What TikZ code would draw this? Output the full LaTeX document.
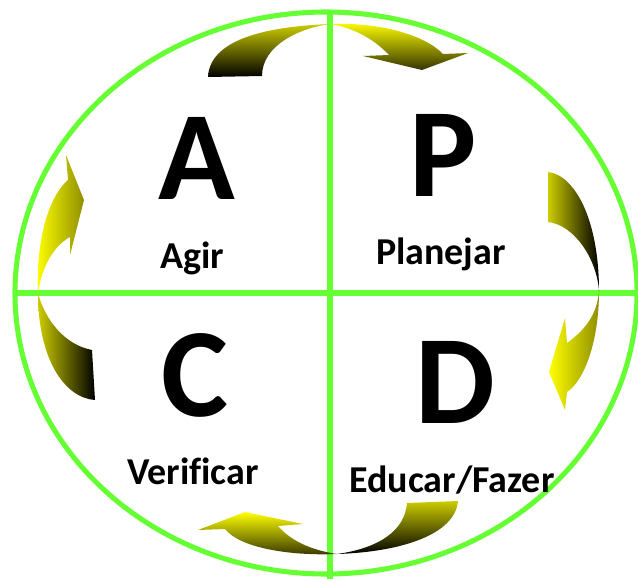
\documentclass[tikz,border=0pt]{standalone}
\usepackage{fontspec}
\setmainfont{Carlito}[Ligatures=NoCommon]
\usetikzlibrary{positioning}
\definecolor{ringgreen}{RGB}{102,255,51}
\definecolor{ribbonyellow}{RGB}{255,255,0}
\definecolor{ribbonolive}{RGB}{204,204,0}
\begin{document}
\begin{tikzpicture}[
  x=0.025cm, y=-0.025cm,
  ring/.style={draw=ringgreen, line width=3.6pt},
  letter/.style={font=\fontsize{90}{90}\selectfont\bfseries, anchor=base, inner sep=0pt},
  lbl/.style={font=\fontsize{27}{27}\selectfont\bfseries, anchor=base, inner sep=0pt},
  backv/.style={top color=ribbonolive, bottom color=black},
  frontv/.style={top color=ribbonyellow, bottom color=black!75!ribbonolive},
  backh/.style={left color=ribbonolive, right color=black},
  fronth/.style={left color=ribbonyellow, right color=black!30!ribbonolive},
]
\useasboundingbox (0,0) rectangle (638,579);

%% ── Ring and cross ────────────────────────────────────────────────────────
\draw[ring] (326,293) ellipse [x radius=311, y radius=281];
\draw[ring] (330,12) -- (330,579);
\draw[ring] (15,293) -- (640,293);

%% ── Pinch points of the ribbons ──────────────────────────────────────────
\coordinate (mtop) at (330,24);
\coordinate (mright) at (599,291);
\coordinate (mbottom) at (337,554);
\coordinate (mleft) at (38,293);

%% ── Top ribbon (A -> P) ──────────────────────────────────────────────────
\shade[backv] (208,77) .. controls (210,35) and (280,26) .. (mtop)
  .. controls (300,28) and (262,45) .. (262,76) -- cycle;
\shade[frontv] (mtop) .. controls (380,22) and (425,35) .. (443,54)
  -- (468,53) -- (422,70) -- (363,56) -- (389,55)
  .. controls (375,40) and (355,28) .. (mtop) -- cycle;

%% ── Right ribbon (P -> D) ────────────────────────────────────────────────
\shade[backh] (548,172) .. controls (575,175) and (599,220) .. (mright)
  .. controls (597,260) and (575,225) .. (548,222) -- cycle;
\shade[fronth] (mright) .. controls (599,340) and (585,380) .. (567,392)
  -- (565,410) -- (549,372) -- (565,318) -- (567,343)
  .. controls (585,330) and (597,315) .. (mright) -- cycle;

%% ── Bottom ribbon (D -> C) ───────────────────────────────────────────────
\shade[backv] (407,503) .. controls (405,530) and (380,548) .. (mbottom)
  .. controls (400,552) and (455,535) .. (458,501) -- cycle;
\shade[frontv] (mbottom) .. controls (290,556) and (240,548) .. (225,529)
  -- (198,530) -- (245,512) -- (303,524) -- (278,526)
  .. controls (290,540) and (310,550) .. (mbottom) -- cycle;

%% ── Left ribbon (C -> A) ─────────────────────────────────────────────────
\shade[backh] (mleft) .. controls (38,360) and (65,398) .. (95,400)
  -- (92,350) .. controls (65,345) and (45,320) .. (mleft) -- cycle;
\shade[fronth] (mleft) .. controls (36,250) and (45,200) .. (68,180)
  -- (66,155) -- (84,200) -- (70,255) -- (70,237)
  .. controls (55,245) and (42,265) .. (mleft) -- cycle;

%% ── Letters ──────────────────────────────────────────────────────────────
\node[letter] (letA) at (197,199) {A};
\node[letter] (letP) at (443,196) {P};
\node[letter] (letC) at (195,416) {C};
\node[letter] (letD) at (455,423) {D};

%% ── Labels ───────────────────────────────────────────────────────────────
\node[lbl] (agir) at (192,268) {Agir};
\node[lbl] (planejar) at (441,264) {Planejar};
\node[lbl] (verificar) at (193,484) {Verificar};
\node[lbl] (fazer) at (452,492) {Educar/Fazer};

\end{tikzpicture}
\end{document}
